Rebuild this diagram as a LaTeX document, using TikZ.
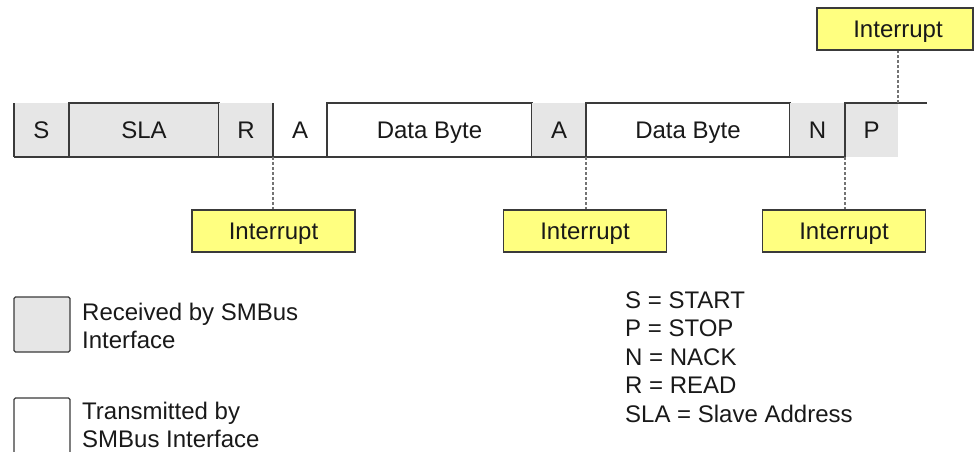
\documentclass[tikz,border=0pt]{standalone}
\usepackage{fontspec}
\setmainfont{Liberation Sans}
\definecolor{rxgray}{HTML}{E6E6E6}
\definecolor{intyellow}{HTML}{FFFF80}
\definecolor{edge}{HTML}{3A3A3A}
\begin{document}
\begin{tikzpicture}[x=1pt,y=-1pt,
  every node/.style={font=\fontsize{24}{28.5}\selectfont, inner sep=0pt, text=black!90},
  oneline/.style={text height=17.2pt, text depth=0pt},
  cell/.style={oneline, minimum height=54pt, outer sep=0pt},
  rxcell/.style={cell, fill=rxgray},
  txcell/.style={cell, fill=white},
  line/.style={draw=edge, line width=1.3pt},
  intr/.style={oneline, draw=edge, line width=1.3pt, fill=intyellow, minimum width=163pt, minimum height=42pt},
  dashline/.style={draw=black!55, line width=1.5pt, dash pattern=on 3pt off 2pt},
  legbox/.style={draw=edge, line width=1.3pt, rounded corners=1.5pt, minimum width=56pt}]
\useasboundingbox (0,0) rectangle (974,451);
% cells
\node[rxcell, minimum width=55pt]  (s)   at (41.5,130) {S};
\node[rxcell, minimum width=150pt, line] (sla) at (144,130) {SLA};
\node[rxcell, minimum width=54pt]  (r)   at (246,130) {R};
\node[txcell, minimum width=54pt]  (a1)  at (300,130) {A};
\node[txcell, minimum width=205pt, line] (d1) at (429.5,130) {Data Byte};
\node[rxcell, minimum width=54pt]  (a2)  at (559,130) {A};
\node[txcell, minimum width=204pt, line] (d2) at (688,130) {Data Byte};
\node[rxcell, minimum width=55pt]  (n)   at (817.5,130) {N};
\node[rxcell, minimum width=53pt]  (p)   at (871.5,130) {P};
\coordinate (pe) at (927,103);
% bus lines
\draw[line] (s.south west) -- (n.south east);
\draw[line] (s.north west) -- (s.south west);
\draw[line] (r.north east) -- (r.south east);
\draw[line] (p.south west) -- (p.north west) -- (pe);
% interrupts
\node[intr] (i1) at (273.5,231) {Interrupt};
\node[intr] (i2) at (585,231) {Interrupt};
\node[intr] (i3) at (844,231) {Interrupt};
\node[intr, minimum width=156pt] (i4) at (895,29) {\hspace*{6pt}Interrupt};
\draw[dashline] (r.south east) -- (r.south east |- i1.north);
\draw[dashline] (a2.south east) -- (a2.south east |- i2.north);
\draw[dashline] (n.south east) -- (n.south east |- i3.north);
\draw[dashline] (p.north east) -- (p.north east |- i4.south);
% legend
\node[legbox, fill=rxgray, minimum height=55pt] (lg) at (42,324.5) {};
\node[legbox, fill=white, minimum height=62pt] (lw) at (42,429) {};
\node[anchor=west, align=left] (lgt) at (82,326) {Received by SMBus\\Interface};
\node[anchor=west, align=left] (lwt) at (82,425) {Transmitted by\\SMBus Interface};
\node[anchor=west, align=left] (abbr) at (625,357) {S = START\\P = STOP\\N = NACK\\R = READ\\SLA = Slave Address};
\end{tikzpicture}
\end{document}
